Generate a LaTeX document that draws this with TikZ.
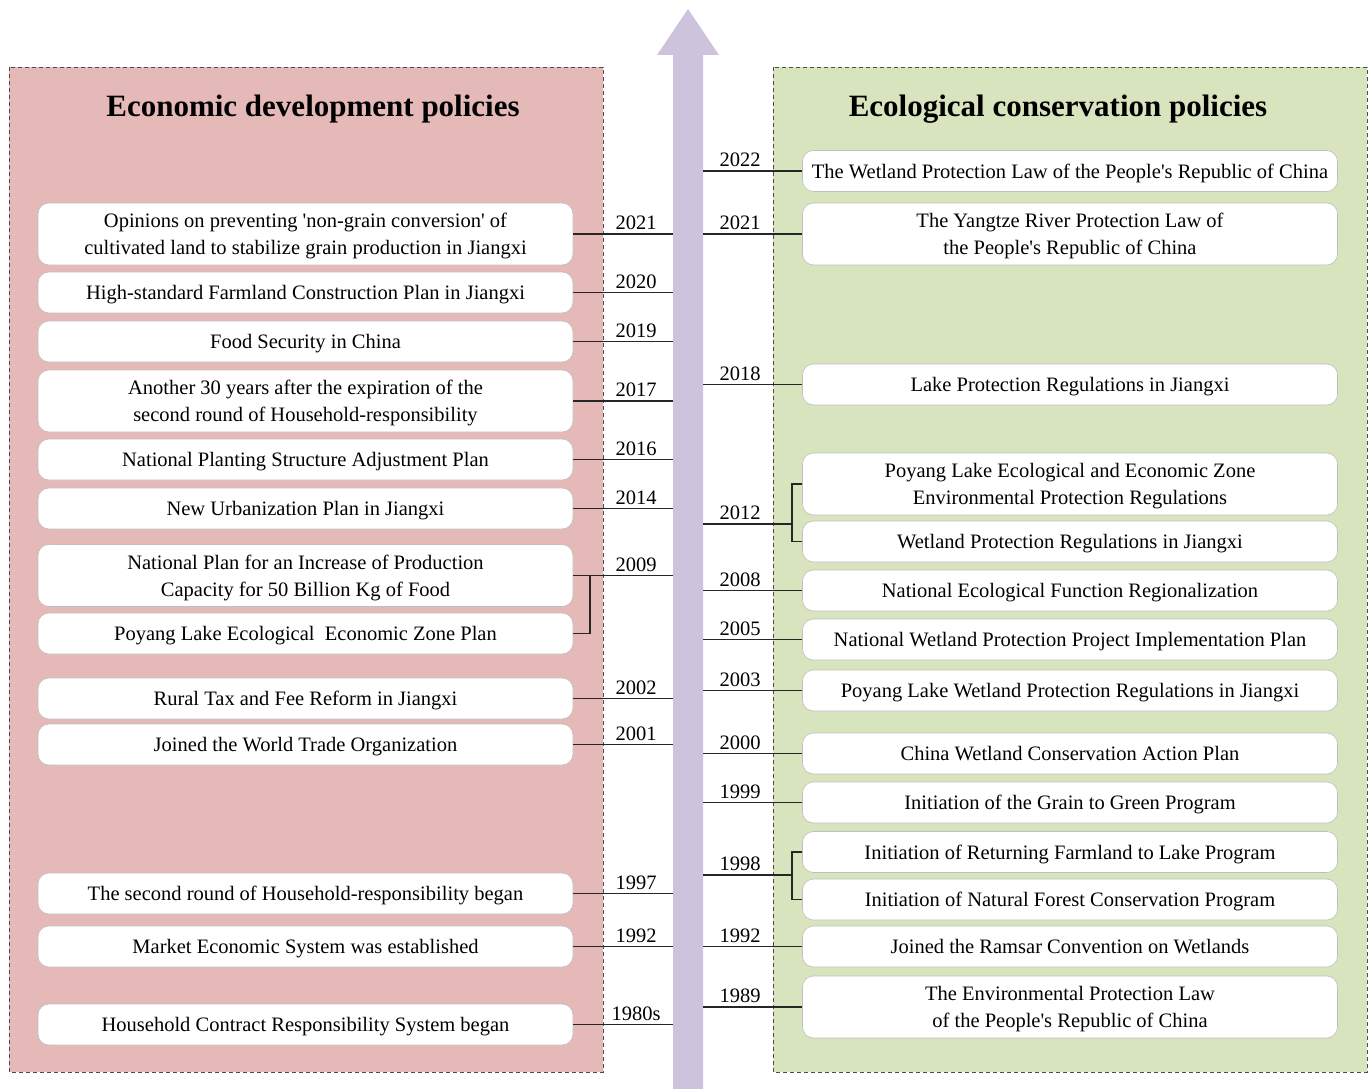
\documentclass[tikz,border=0pt]{standalone}
\usepackage{fontspec}
\setmainfont{Liberation Serif}
\usetikzlibrary{calc}
\definecolor{econbg}{RGB}{228,185,183}
\definecolor{ecobg}{RGB}{216,228,190}
\definecolor{axisfill}{RGB}{205,195,221}
\newcommand{\sq}{\textquotesingle}
\begin{document}
\begin{tikzpicture}[x=1pt,y=-1pt,
  panel/.style={draw=black!70,dash pattern=on 4pt off 3pt,line width=0.9pt},
  pbox/.style={draw=black!25,line width=0.6pt,fill=white,rounded corners=11pt,
    minimum width=535pt,align=center,inner sep=0pt,text depth=0pt,
    font=\fontsize{20.5}{27}\selectfont},
  one/.style={pbox,minimum height=41pt},
  two/.style={pbox,minimum height=62pt},
  link/.style={draw=black!85,line width=1.1pt},
  yr/.style={anchor=south,inner sep=0pt,yshift=4pt,font=\fontsize{20.5}{24}\selectfont},
  ttl/.style={font=\bfseries\fontsize{31}{36}\selectfont}]
\useasboundingbox (0,0) rectangle (1370,1089);

% background panels
\draw[panel,fill=econbg] (9,67) rectangle (603,1072);
\draw[panel,fill=ecobg] (773,67) rectangle (1367,1072);

% time axis arrow
\fill[axisfill] (673,1089) -- (673,55) -- (657,55) -- (688,9)
  -- (719,55) -- (703,55) -- (703,1089) -- cycle;
\coordinate (axL) at (673,0);
\coordinate (axR) at (703,0);

% titles
\node[ttl] (tE) at (313,109) {Economic development policies};
\node[ttl] (tC) at (1058,109) {Ecological conservation policies};

% economic development policies
\node[two] (e1) at (305.5,234) {Opinions on preventing \sq non-grain conversion\sq\ of\\cultivated land to stabilize grain production in Jiangxi};
\node[one] (e2) at (305.5,292.5) {High-standard Farmland Construction Plan in Jiangxi};
\node[one] (e3) at (305.5,341.5) {Food Security in China};
\node[two] (e4) at (305.5,401) {Another 30 years after the expiration of the\\second round of Household-responsibility};
\node[one] (e5) at (305.5,459.5) {National Planting Structure Adjustment Plan};
\node[one] (e6) at (305.5,508.5) {New Urbanization Plan in Jiangxi};
\node[two] (e7) at (305.5,575.5) {National Plan for an Increase of Production\\Capacity for 50 Billion Kg of Food};
\node[one] (e8) at (305.5,633.5) {Poyang Lake Ecological\ \ Economic Zone Plan};
\node[one] (e9) at (305.5,698.5) {Rural Tax and Fee Reform in Jiangxi};
\node[one] (e10) at (305.5,744.5) {Joined the World Trade Organization};
\node[one] (e11) at (305.5,893.5) {The second round of Household-responsibility began};
\node[one] (e12) at (305.5,946.5) {Market Economic System was established};
\node[one] (e13) at (305.5,1024.5) {Household Contract Responsibility System began};

% ecological conservation policies
\node[one] (c1) at (1070,171) {The Wetland Protection Law of the People\sq s Republic of China};
\node[two] (c2) at (1070,234) {The Yangtze River Protection Law of\\the People\sq s Republic of China};
\node[one] (c3) at (1070,384.5) {Lake Protection Regulations in Jiangxi};
\node[two] (c4) at (1070,484) {Poyang Lake Ecological and Economic Zone\\Environmental Protection Regulations};
\node[one] (c5) at (1070,541.5) {Wetland Protection Regulations in Jiangxi};
\node[one] (c6) at (1070,590.5) {National Ecological Function Regionalization};
\node[one] (c7) at (1070,639.5) {National Wetland Protection Project Implementation Plan};
\node[one] (c8) at (1070,690.5) {Poyang Lake Wetland Protection Regulations in Jiangxi};
\node[one] (c9) at (1070,753.5) {China Wetland Conservation Action Plan};
\node[one] (c10) at (1070,802.5) {Initiation of the Grain to Green Program};
\node[one] (c11) at (1070,852) {Initiation of Returning Farmland to Lake Program};
\node[one] (c12) at (1070,899.5) {Initiation of Natural Forest Conservation Program};
\node[one] (c13) at (1070,946.5) {Joined the Ramsar Convention on Wetlands};
\node[two] (c14) at (1070,1007) {The Environmental Protection Law\\of the People\sq s Republic of China};

% left connectors with years
\foreach \n/\y in {e1/2021,e2/2020,e3/2019,e4/2017,e5/2016,e6/2014,e7/2009,e9/2002,e10/2001,e11/1997,e12/1992,e13/1980s}{
  \draw[link] (\n.east) -- (\n.east -| axL);
  \node[yr] (y\n) at ($(\n.east -| axL)+(-37,0)$) {\y};
}
\coordinate (bE) at (590,575.5);
\draw[link] (e8.east) -| (bE);

% right connectors with years
\foreach \n/\y in {c1/2022,c2/2021,c3/2018,c6/2008,c7/2005,c8/2003,c9/2000,c10/1999,c13/1992,c14/1989}{
  \draw[link] (\n.west -| axR) -- (\n.west);
  \node[yr] (y\n) at ($(\n.west -| axR)+(37,0)$) {\y};
}
\coordinate (b12) at (792,524);
\draw[link] (b12 -| axR) -- (b12);
\draw[link] (c4.west) -| (b12);
\draw[link] (c5.west) -| (b12);
\node[yr] (y12) at ($(b12 -| axR)+(37,0)$) {2012};
\coordinate (b98) at (792,875);
\draw[link] (b98 -| axR) -- (b98);
\draw[link] (c11.west) -| (b98);
\draw[link] (c12.west) -| (b98);
\node[yr] (y98) at ($(b98 -| axR)+(37,0)$) {1998};
\end{tikzpicture}
\end{document}
